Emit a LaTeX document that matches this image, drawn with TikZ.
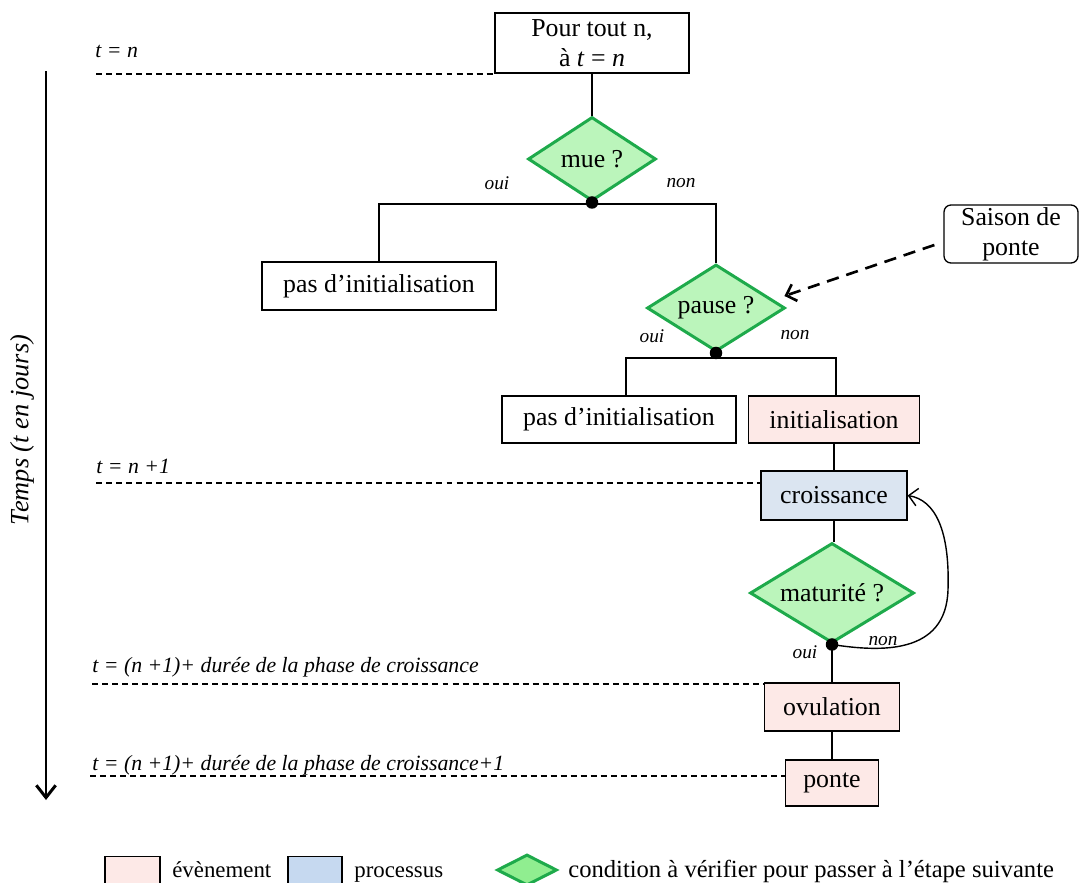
\documentclass[tikz,border=0pt]{standalone}
\usepackage{fontspec}
\setmainfont{Liberation Serif}
\usetikzlibrary{shapes.geometric,arrows.meta,calc}
\definecolor{evt}{RGB}{253,233,231}
\definecolor{proc}{RGB}{219,229,241}
\definecolor{procleg}{RGB}{198,217,240}
\definecolor{condfill}{RGB}{187,245,187}
\definecolor{condleg}{RGB}{144,238,144}
\definecolor{condline}{RGB}{30,170,75}
\begin{document}
\begin{tikzpicture}[x=0.02cm,y=-0.02cm,
  box/.style={draw,line width=0.75pt,rectangle,inner sep=0pt,fill=white,
    font=\fontsize{14.7}{17}\selectfont,align=center},
  evtbox/.style={box,fill=evt},
  procbox/.style={box,fill=proc},
  cond/.style={diamond,draw=condline,line width=1.7pt,fill=condfill,inner sep=0pt,
    font=\fontsize{14.7}{17}\selectfont},
  conn/.style={line width=0.75pt},
  yn/.style={font=\fontsize{11}{13}\selectfont\itshape,inner sep=0pt},
  tlab/.style={font=\fontsize{12.4}{15}\selectfont\itshape,inner sep=0pt,anchor=base west},
  tline/.style={line width=0.6pt,dash pattern=on 3.4pt off 2.3pt},
  dot/.style={circle,fill=black,inner sep=0pt,minimum size=0.25cm},
  leg/.style={font=\fontsize{13}{15}\selectfont,inner sep=0pt,anchor=base west}
]
\useasboundingbox (0,0) rectangle (1080,883);

% time axis
\coordinate (ax0) at (46,71);
\coordinate (ax1) at (46,800);
\draw[line width=1.7pt,-{Straight Barb[length=7pt,width=11pt]}] (ax0) -- (ax1);
\node[rotate=90,font=\fontsize{15}{17}\selectfont\itshape,inner sep=0pt] (axl) at (22,430) {Temps (t en jours)};

% main nodes
\node[box,minimum width=3.88cm,minimum height=1.2cm] (top) at (592,43)
  {Pour tout n,\\ à \textit{t} = \textit{n}};
\node[cond,aspect=1.52,minimum width=2.56cm,minimum height=1.68cm] (mue) at (592,159) {mue ?};
\node[box,minimum width=4.68cm,minimum height=0.96cm] (pas1) at (379,286) {pas d’initialisation};
\node[cond,aspect=1.59,minimum width=2.76cm,minimum height=1.74cm] (pause) at (716,308) {pause ?};
\node[box,rounded corners=4pt,minimum width=2.68cm,minimum height=1.16cm] (sai) at (1011,234)
  {Saison de\\ ponte};
\node[box,minimum width=4.68cm,minimum height=0.94cm] (pas2) at (619,419.5) {pas d’initialisation};
\node[evtbox,minimum width=3.42cm,minimum height=0.94cm] (init) at (834,419.5) {initialisation};
\node[procbox,minimum width=2.92cm,minimum height=0.98cm] (cro) at (834,495.5) {croissance};
\node[cond,aspect=1.64,minimum width=3.28cm,minimum height=2.0cm] (mat) at (832,593) {maturité ?};
\node[evtbox,minimum width=2.7cm,minimum height=0.96cm] (ovu) at (832,707) {ovulation};
\node[evtbox,minimum width=1.86cm,minimum height=0.92cm] (pon) at (832,783) {ponte};

% connectors
\draw[conn] (top.south) -- (mue.north);
\coordinate (mueb) at (592,204);
\draw[conn] (pas1.north) |- (mueb) -| (pause.north);
\node[dot] (d1) at (mue.south) {};
\node[yn] (o1) at (497,183) {oui};
\node[yn] (n1) at (681,183) {non};

\coordinate (pb) at (717,358);
\draw[conn] ($(pas2.north)+(7,0)$) |- (pb) -| ($(init.north)+(2,0)$);
\node[dot] (d2) at (pause.south) {};
\node[yn] (o2) at (652,336) {oui};
\node[yn] (n2) at (795,335) {non};

\draw[line width=1.5pt,dash pattern=on 7pt off 4.5pt,-{Straight Barb[length=5pt,width=10pt]}]
  ($(sai.west)+(-9,11)$) -- ($(pause.east)+(-2,-12)$);

\draw[conn] (init.south) -- (cro.north);
\draw[conn] (cro.south) -- (cro.south |- mat.north);
\draw[conn] (mat.south) -- (ovu.north);
\draw[conn] (ovu.south) -- (pon.north);
\node[dot] (d3) at (mat.south) {};
\node[yn] (o3) at (805,652) {oui};
\node[yn] (n3) at (883,641) {non};
\draw[line width=0.8pt,-{Straight Barb[length=5pt,width=10pt]}]
  (mat.south) .. controls (880,652) and (946,655) .. (948,590)
  .. controls (950,530) and (935,500) .. (cro.east);

% time lines
\node[tlab] (t0) at (95,57) {t = n};
\coordinate (l0) at (96,74);
\draw[tline] (l0) -- (l0 -| top.west);
\node[tlab] (t1) at (96,473) {t = n +1};
\coordinate (l1) at (96,483);
\draw[tline] (l1) -- (l1 -| cro.west);
\node[tlab] (t2) at (92,672) {t = (n +1)+ durée de la phase de croissance};
\coordinate (l2) at (92,684);
\draw[tline] (l2) -- (l2 -| ovu.west);
\node[tlab] (t3) at (92,770) {t = (n +1)+ durée de la phase de croissance+1};
\coordinate (l3) at (90,776);
\draw[tline] (l3) -- (l3 -| pon.west);

% legend
\node[box,fill=evt,minimum width=1.1cm,minimum height=0.58cm] (lg1) at (132.5,871) {};
\node[leg] (lt1) at (172,877) {évènement};
\node[box,fill=procleg,minimum width=1.08cm,minimum height=0.58cm] (lg2) at (315,871) {};
\node[leg] (lt2) at (354,877) {processus};
\node[cond,aspect=2,fill=condleg,minimum width=1.2cm,minimum height=0.62cm] (lg3) at (527,870) {};
\node[leg,font=\fontsize{14}{16}\selectfont] (lt3) at (568,877) {condition à vérifier pour passer à l’étape suivante};
\end{tikzpicture}
\end{document}
